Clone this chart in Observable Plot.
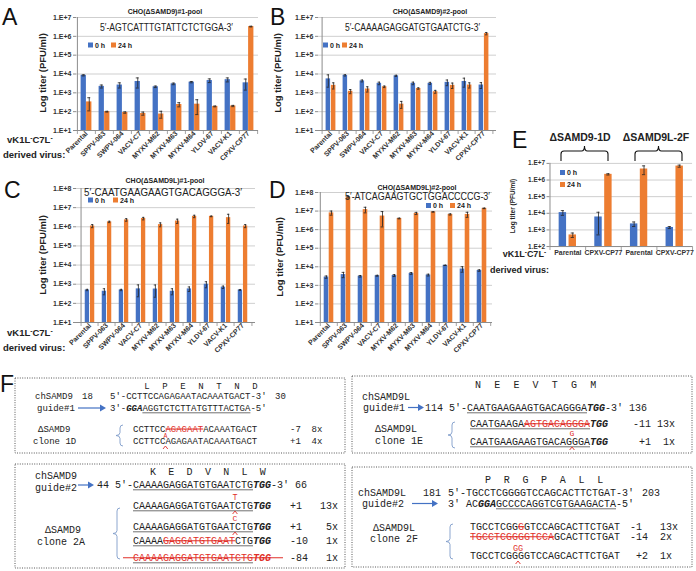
<!DOCTYPE html>
<html><head><meta charset="utf-8">
<script src="https://cdn.jsdelivr.net/npm/d3@7"></script>
<script src="https://cdn.jsdelivr.net/npm/@observablehq/plot@0.6"></script>
<style>
body{margin:0;background:#fff;}
#root{position:relative;width:696px;height:571px;overflow:hidden;background:#fff;}
.chart{position:absolute;}
.chart svg{overflow:visible;}
#ov{position:absolute;left:0;top:0;}
</style></head><body><div id="root"></div>
<script>
// ---------- data ----------
const viruses = ["Parental","SPPV-063","SWPV-064","VACV-C7","MYXV-M62","MYXV-M63","MYXV-M64","YLDV-67","VACV-K1","CPXV-CP77"];
const A0 = [8500, 2200, 2600, 4000, 2100, 3000, 3700, 4500, 5000, 3400];
const A0err = [600, 400, 800, 2200, 200, 300, 300, 1000, 1200, 2000];
const A24 = [330, 100, 90, 80, 75, 240, 250, 190, 200, 3300000];
const A24err = [220, 5, 8, 15, 30, 60, 180, 10, 15, 150000];
const B0 = [5500, 8500, 4300, 3200, 8000, 3200, 3200, 3600, 4000, 2600];
const B0err = [3500, 700, 500, 500, 600, 500, 400, 1200, 2000, 900];
const B24 = [2500, 1200, 1600, 2100, 250, 1700, 1150, 2500, 2600, 1400000];
const B24err = [900, 300, 500, 200, 100, 150, 200, 800, 800, 200000];
const C0 = [500, 430, 500, 570, 560, 430, 570, 1000, 700, 500];
const C0err = [40, 150, 40, 350, 350, 150, 150, 350, 100, 30];
const C24 = [1100000, 1800000, 2300000, 2700000, 1300000, 2000000, 3500000, 3500000, 3000000, 1100000];
const C24err = [200000, 150000, 350000, 400000, 300000, 500000, 500000, 150000, 1500000, 200000];
const D0 = [2800, 3800, 3100, 3300, 3400, 4400, 3600, 12000, 7600, 6300];
const D0err = [400, 1200, 300, 200, 400, 500, 400, 300, 2500, 600];
const D24 = [8000000, 56000000, 12000000, 5400000, 4000000, 7500000, 9000000, 6600000, 6600000, 14000000];
const D24err = [2000000, 5000000, 4000000, 4000000, 200000, 1000000, 300000, 500000, 2000000, 500000];
const eGroups = ["Parental","CPXV-CP77","Parental","CPXV-CP77"];
const E0 = [11000, 6000, 2300, 1400];
const E0err = [3500, 5500, 700, 200];
const E24 = [500, 2200000, 4600000, 6900000];
const E24err = [150, 200000, 2500000, 1000000];
const series = ["0 h", "24 h"];
const BLUE = "#4472C4", ORANGE = "#ED7D31", RED = "#e0302a";
const SANS = "Liberation Sans, Arial, sans-serif";
const MONO = "Liberation Mono, Courier New, monospace";

const root = document.getElementById("root");

function chart(o) {
  const cats = o.cats;
  const mR = 4, mT = 10, mB = 45;
  const width = o.rightX - o.left + mR;
  const mL = o.axisX - o.left;
  const height = o.bottomY - o.topY + mT + mB;
  const bw = (o.rightX - o.axisX) / cats.length;
  const half = bw / 2, off = (o.barW + o.gap) / 2, bwid = o.barW;
  const r0 = cats.map((c, i) => ({c, v: o.v0[i], e: o.e0[i]}));
  const r1 = cats.map((c, i) => ({c, v: o.v1[i], e: o.e1[i]}));
  const lo = o.domain[0];
  const k0 = Math.round(Math.log10(o.domain[0])), k1 = Math.round(Math.log10(o.domain[1]));
  const ticks = d3.range(k0, k1 + 1).map(k => Math.pow(10, k));
  const decPx = (o.bottomY - o.topY) / (k1 - k0);
  const below = lo / Math.pow(10, 4 / decPx);
  const errMarks = (rows, dx) => [
    Plot.ruleX(rows, {x: "c", y1: d => Math.max(d.v - d.e, lo), y2: d => d.v + d.e, dx, stroke: "#222", strokeWidth: 0.8}),
    Plot.tickY(rows, {x: "c", y: d => d.v + d.e, insetLeft: half + dx - 1.6, insetRight: half - dx - 1.6, stroke: "#222", strokeWidth: 0.8}),
    Plot.tickY(rows.filter(d => d.v - d.e > lo), {x: "c", y: d => d.v - d.e, insetLeft: half + dx - 1.6, insetRight: half - dx - 1.6, stroke: "#222", strokeWidth: 0.8})
  ];
  const svg = Plot.plot({
    width, height, marginLeft: mL, marginRight: mR, marginTop: mT, marginBottom: mB,
    x: {domain: cats, padding: 0},
    y: {type: "log", domain: o.domain},
    style: {fontFamily: SANS, fontSize: "7px", fontWeight: "bold", background: "transparent", overflow: "visible", color: "#333"},
    marks: [
      Plot.ruleY(ticks, {stroke: "#c9c9c9", strokeWidth: 0.9}),
      Plot.barY(r0, {x: "c", y1: () => lo, y2: "v", fill: BLUE, insetLeft: half - off - bwid / 2, insetRight: half + off - bwid / 2}),
      Plot.barY(r1, {x: "c", y1: () => lo, y2: "v", fill: ORANGE, insetLeft: half + off - bwid / 2, insetRight: half - off - bwid / 2}),
      ...errMarks(r0, -off),
      ...errMarks(r1, off),
      Plot.ruleY([lo], {stroke: "#8c8c8c", strokeWidth: 1}),
      Plot.ruleX([cats[0]], {dx: -half, y1: () => lo, y2: () => o.domain[1], stroke: "#8c8c8c", strokeWidth: 1}),
      Plot.ruleX(cats, {x: d => d, dx: -half, y1: () => lo, y2: () => below, stroke: "#8c8c8c", strokeWidth: 0.8}),
      Plot.ruleX([cats[cats.length - 1]], {dx: half, y1: () => lo, y2: () => below, stroke: "#8c8c8c", strokeWidth: 0.8}),
      Plot.axisY({ticks, tickFormat: d => "1.E+" + Math.round(Math.log10(d)), tickSize: 3, tickPadding: 2, stroke: "#8c8c8c", label: null, fontSize: o.tickFont || 7}),
      Plot.axisX({tickRotate: o.rotate, tickSize: 0, tickPadding: o.rotate ? 2 : 4, label: null, tickFormat: o.fmt || (d => d), fontSize: 7})
    ]
  });
  const div = document.createElement("div");
  div.className = "chart";
  div.style.left = o.left + "px";
  div.style.top = (o.topY - mT) + "px";
  div.appendChild(svg);
  root.appendChild(div);
}

chart({cats: viruses, v0: A0, e0: A0err, v1: A24, e1: A24err, left: 0, axisX: 76, rightX: 258, topY: 17, bottomY: 130, domain: [1e1, 1e7], barW: 5.5, gap: 0, rotate: -45});
chart({cats: viruses, v0: B0, e0: B0err, v1: B24, e1: B24err, left: 240, axisX: 318, rightX: 496, topY: 17, bottomY: 130, domain: [1e1, 1e7], barW: 5.3, gap: 0, rotate: -45});
chart({cats: viruses, v0: C0, e0: C0err, v1: C24, e1: C24err, left: 0, axisX: 76, rightX: 255, topY: 188, bottomY: 322, domain: [1e1, 1e8], barW: 5.2, gap: 0, rotate: -45});
chart({cats: viruses, v0: D0, e0: D0err, v1: D24, e1: D24err, left: 240, axisX: 318, rightX: 492, topY: 192, bottomY: 322, domain: [1e1, 1e8], barW: 5, gap: 0, rotate: -45});
const eKeys = eGroups.map((g, i) => "g" + i);
chart({cats: eKeys, v0: E0, e0: E0err, v1: E24, e1: E24err, left: 500, axisX: 550, rightX: 694, topY: 163, bottomY: 247, domain: [1e2, 1e7], barW: 7.5, gap: 2.5, rotate: 0, fmt: (d) => eGroups[eKeys.indexOf(d)], tickFont: 6.5});

// ---------- overlay annotations ----------
const ov = d3.select("#root").append("svg").attr("id", "ov").attr("width", 696).attr("height", 571);
function txt(x, y, s, o = {}) {
  const t = ov.append("text").attr("x", x).attr("y", y).text(s)
    .attr("font-family", o.family || SANS).attr("font-size", o.size || 10)
    .attr("font-weight", o.weight || "normal").attr("fill", o.fill || "#222")
    .attr("style", "white-space:pre");
  if (o.anchor) t.attr("text-anchor", o.anchor);
  if (o.len) t.attr("textLength", o.len).attr("lengthAdjust", "spacingAndGlyphs");
  if (o.rotate) t.attr("transform", `rotate(${o.rotate},${x},${y})`);
  if (o.italic) t.attr("font-style", "italic");
  return t;
}
function line(x1, y1, x2, y2, c, w) { ov.append("line").attr("x1", x1).attr("y1", y1).attr("x2", x2).attr("y2", y2).attr("stroke", c).attr("stroke-width", w); }

// panel letters
[["A", 2, 25], ["B", 270, 25], ["C", 4, 198], ["D", 269, 198], ["E", 512, 148], ["F", 0, 392]].forEach(([l, x, y]) => txt(x, y, l, {size: 23, fill: "#111"}));

// chart titles, sequences
const titles = [["CHO(\u0394SAMD9)#1-pool", 165, 14], ["CHO(\u0394SAMD9)#2-pool", 430, 14], ["CHO(\u0394SAMD9L)#1-pool", 165, 183], ["CHO(\u0394SAMD9L)#2-pool", 417, 190]];
titles.forEach(([s, x, y]) => txt(x, y, s, {size: 7, weight: "bold", anchor: "middle"}));
const seqs = [["5\u2032-AGTCATTTGTATTCTCTGGA-3\u2032", 100, 31, 133, 10.5], ["5\u2032-CAAAAGAGGATGTGAATCTG-3\u2032", 345, 31, 135, 10.5], ["5\u2032-CAATGAAGAAGTGACAGGGA-3\u2032", 84, 196, 158, 11], ["5\u2032-ATCAGAAGTGCTGGACCCCG-3\u2032", 345, 199.5, 145, 11]];
seqs.forEach(([s, x, y, len, sz]) => txt(x, y, s, {size: sz, len}));

// legends
function legend(x, y, gap2) {
  ov.append("rect").attr("x", x).attr("y", y - 2.5).attr("width", 5).attr("height", 5).attr("fill", BLUE);
  txt(x + 7, y + 2.5, "0 h", {size: 7, weight: "bold"});
  ov.append("rect").attr("x", x + gap2).attr("y", y - 2.5).attr("width", 5).attr("height", 5).attr("fill", ORANGE);
  txt(x + gap2 + 7, y + 2.5, "24 h", {size: 7, weight: "bold"});
}
legend(88, 45, 23); legend(323, 45, 19); legend(88, 200, 25); legend(426, 205.5, 24);
// E legend (vertical)
ov.append("rect").attr("x", 560).attr("y", 170).attr("width", 5).attr("height", 5).attr("fill", BLUE);
txt(567, 175, "0 h", {size: 7, weight: "bold"});
ov.append("rect").attr("x", 560).attr("y", 182).attr("width", 5).attr("height", 5).attr("fill", ORANGE);
txt(567, 187, "24 h", {size: 7, weight: "bold"});

// y titles
[[46, 73], [281, 73], [46, 255], [283, 257]].forEach(([x, y]) => txt(x, y, "Log titer (PFU/ml)", {size: 9.5, weight: "bold", anchor: "middle", rotate: -90}));
txt(515, 206, "Log titer (PFU/ml)", {size: 6.5, weight: "bold", anchor: "middle", rotate: -90});

// derived virus labels
function vk(x, y, size, anchor) {
  const t = txt(x, y, "", {size, weight: "bold", anchor});
  t.append("tspan").text("vK1L");
  t.append("tspan").text("-").attr("font-size", size * 0.7).attr("dy", -size * 0.35);
  t.append("tspan").text("C7L").attr("dy", size * 0.35);
  t.append("tspan").text("-").attr("font-size", size * 0.7).attr("dy", -size * 0.35);
}
vk(7, 143, 9.5); txt(3, 158, "derived virus:", {size: 9.5, weight: "bold"});
vk(7, 336, 9.5); txt(3, 351, "derived virus:", {size: 9.5, weight: "bold"});
vk(546, 257, 9, "end"); txt(490, 273, "derived virus:", {size: 9, weight: "bold"});

// E headers and braces
txt(580, 141, "\u0394SAMD9-1D", {size: 10.5, weight: "bold", anchor: "middle"});
txt(656, 141, "\u0394SAMD9L-2F", {size: 10.5, weight: "bold", anchor: "middle"});
function hbrace(x1, x2, yTop, yBot) {
  const m = (x1 + x2) / 2, yh = yTop + 5;
  ov.append("path").attr("d", `M${x1},${yBot} L${x1},${yh + 3} Q${x1},${yh} ${x1 + 3},${yh} L${m - 3},${yh} Q${m},${yh} ${m},${yTop} Q${m},${yh} ${m + 3},${yh} L${x2 - 3},${yh} Q${x2},${yh} ${x2},${yh + 3} L${x2},${yBot}`)
    .attr("fill", "none").attr("stroke", "#111").attr("stroke-width", 1.1);
}
hbrace(561, 608, 146, 161); hbrace(635, 682, 146, 161);

// ---------- panel F ----------
function box(x, y, w, h) { ov.append("rect").attr("x", x).attr("y", y).attr("width", w).attr("height", h).attr("fill", "none").attr("stroke", "#444").attr("stroke-width", 0.9).attr("stroke-dasharray", "1,1.4"); }
function mono(x, y, s, size, o = {}) { return txt(x, y, s, Object.assign({family: MONO, size}, o)); }
function seqRow(x, y, size, segs) {
  const cw = size * 0.6; let i = 0;
  const t = ov.append("text").attr("y", y).attr("font-family", MONO).attr("font-size", size).attr("style", "white-space:pre");
  for (const s of segs) {
    const x0 = x + i * cw, x1 = x0 + s.t.length * cw;
    const sp = t.append("tspan").attr("x", x0).text(s.t).attr("fill", s.red ? RED : "#222");
    if (s.bi) sp.attr("font-weight", "bold").attr("font-style", "italic");
    if (s.u) line(x0, y + 1.8, x1, y + 1.8, "#333", 0.7);
    if (s.strike) line(x0 - (s.ext || 0), y - size * 0.33, x1 + (s.ext || 0), y - size * 0.33, RED, 1.1);
    i += s.t.length;
  }
}
function caret(x, y) { ov.append("path").attr("d", `M${x - 2.4},${y + 3} L${x},${y} L${x + 2.4},${y + 3}`).attr("fill", "none").attr("stroke", RED).attr("stroke-width", 0.9); }
function arrow(x1, x2, y) {
  line(x1, y, x2 - 5, y, BLUE, 1.2);
  ov.append("path").attr("d", `M${x2 - 6},${y - 3.5} L${x2},${y} L${x2 - 6},${y + 3.5} Z`).attr("fill", BLUE);
}
function cbrace(x, y1, y2) {
  const m = (y1 + y2) / 2, xb = x + 4;
  ov.append("path").attr("d", `M${xb + 3},${y1} Q${xb},${y1} ${xb},${y1 + 3} L${xb},${m - 3} Q${xb},${m} ${x},${m} Q${xb},${m} ${xb},${m + 3} L${xb},${y2 - 3} Q${xb},${y2} ${xb + 3},${y2}`)
    .attr("fill", "none").attr("stroke", "#7f9cc9").attr("stroke-width", 0.9);
}
function aaRow(x, y, letters, step, size) { letters.forEach((l, i) => mono(x + i * step, y, l, size, {anchor: "middle"})); }

// box 1
box(15, 378, 330, 75);
aaRow(147, 389, ["L", "P", "E", "N", "T", "N", "D"], 18, 9);
mono(35, 399, "chSAMD9", 9); mono(82, 399, "18", 9); mono(110, 399, "5'-CCTTCCAGAGAATACAAATGACT-3'", 9); mono(275, 399, "30", 9);
mono(37, 411, "guide#1", 9); arrow(78, 106, 408);
seqRow(110, 411, 9, [{t: "3'-"}, {t: "GGA", bi: true}, {t: "AGGTCTCTTATGTTTACTGA", u: true}, {t: "-5'"}]);
mono(38, 432, "\u0394SAMD9", 9); mono(33, 444, "clone 1D", 9);
cbrace(116, 425, 446);
seqRow(133, 432, 9, [{t: "CCTTCC"}, {t: "AGAGAAT", red: true, strike: true}, {t: "ACAAATGACT"}]);
mono(133 + 6 * 5.4, 438, "A", 6.5, {anchor: "middle", fill: RED});
seqRow(133, 444, 9, [{t: "CCTTCCAGAGAATACAAATGACT"}]);
caret(133 + 6 * 5.4, 446);
mono(290, 432, "-7  8x", 9); mono(290, 444, "+1  4x", 9);

// box 2
box(352, 376, 340, 77);
aaRow(478, 388, ["N", "E", "E", "V", "T", "G", "M"], 19.2, 10);
mono(362, 400, "chSAMD9L", 10);
mono(363, 411, "guide#1", 10); arrow(408, 424, 407.5);
seqRow(425, 411, 10, [{t: "114 5'-"}, {t: "CAATGAAGAAGTGACAGGGA", u: true}, {t: "TGG", bi: true}, {t: "-3' 136"}]);
mono(375, 432, "\u0394SAMD9L", 10); mono(375, 444, "clone 1E", 10);
cbrace(448, 422, 448);
seqRow(470, 427, 10, [{t: "CAATGAAGA", u: true}, {t: "AGTGACAGGGA", red: true, strike: true, u: true}, {t: "TGG", bi: true}]);
mono(572, 436, "G", 8, {anchor: "middle", fill: RED});
seqRow(470, 445, 10, [{t: "CAATGAAGAAGTGACAGGGA", u: true}, {t: "TGG", bi: true}]);
caret(572, 447);
mono(633, 427, "-11 13x", 10); mono(633, 445, " +1  1x", 10);

// box 3
box(15, 464, 330, 104);
aaRow(153, 475, ["K", "E", "D", "V", "N", "L", "W"], 18.3, 10);
mono(35, 479, "chSAMD9", 10); mono(35, 491, "guide#2", 10); arrow(78, 94, 485);
seqRow(97, 488, 10, [{t: "44 5'-"}, {t: "CAAAAGAGGATGTGAATCTG", u: true}, {t: "TGG", bi: true}, {t: "-3' 66"}]);
mono(45, 533, "\u0394SAMD9", 10); mono(37, 545, "clone 2A", 10);
cbrace(113, 508, 559);
mono(235, 500, "T", 8.5, {anchor: "middle", fill: RED});
seqRow(133, 509, 10, [{t: "CAAAAGAGGATGTGAATCTG", u: true}, {t: "TGG", bi: true}]);
caret(235, 511);
mono(235, 521, "C", 8, {anchor: "middle", fill: RED});
seqRow(133, 530, 10, [{t: "CAAAAGAGGATGTGAATCTG", u: true}, {t: "TGG", bi: true}]);
caret(235, 532);
seqRow(133, 544, 10, [{t: "CAAAA", u: true}, {t: "GAGGATGTGAAT", red: true, strike: true, u: true}, {t: "CTG", u: true}, {t: "TGG", bi: true}]);
seqRow(133, 561, 10, [{t: "CAAAAGAGGATGTGAATCTG", u: true, red: true}, {t: "TGG", bi: true, red: true}]);
line(123, 561 - 3.3, 283, 561 - 3.3, RED, 1.1);
mono(290, 509, "+1   13x", 10); mono(290, 530, "+1    5x", 10); mono(290, 544, "-10   1x", 10); mono(290, 561, "-84   1x", 10);

// box 4
box(352, 467, 340, 100);
aaRow(488, 483, ["P", "R", "G", "P", "A", "L", "L"], 18.7, 10);
mono(358, 496, "chSAMD9L", 10); mono(423, 496, "181", 10); mono(448, 496, "5'-TGCCTCGGGGTCCAGCACTTCTGAT-3'", 10); mono(642, 496, "203", 10);
mono(362, 507, "guide#2", 10); arrow(412, 438, 503.5);
seqRow(448, 507, 10, [{t: "3' AC"}, {t: "GGA", bi: true}, {t: "GCCCCAGGTCGTGAAGACTA", u: true}, {t: "-5'"}]);
mono(373, 531, "\u0394SAMD9L", 10); mono(370, 542, "clone 2F", 10);
cbrace(446, 524, 559);
seqRow(470, 530, 10, [{t: "TGCCTCGG"}, {t: "G", red: true, strike: true}, {t: "GTCCAGCACTTCTGAT"}]);
seqRow(470, 540, 10, [{t: "TGCCTCGGGGTCCA", red: true, strike: true}, {t: "GCACTTCTGAT"}]);
mono(518, 550.5, "GG", 8.5, {anchor: "middle", fill: RED});
seqRow(470, 559, 10, [{t: "TGCCTCGGGGTCCAGCACTTCTGAT"}]);
caret(518, 561);
mono(630, 530, "-1   13x", 10); mono(630, 540, "-14  2x", 10); mono(630, 559, " +2  1x", 10);
</script></body></html>
